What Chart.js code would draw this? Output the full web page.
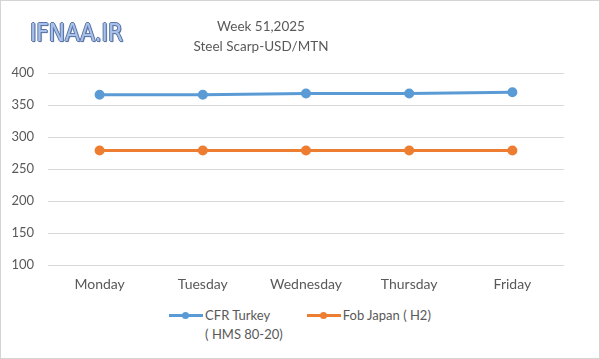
<!DOCTYPE html>
<html>
<head>
<meta charset="utf-8">
<script src="https://cdn.jsdelivr.net/npm/chart.js@4.4.1/dist/chart.umd.min.js"></script>
<style>
  html, body { margin: 0; padding: 0; background: #fff; }
  #wrap { position: relative; width: 598px; height: 357px; border: 1px solid #d4d4d4; overflow: hidden; font-family: Lato, "Open Sans", sans-serif; }
  #box { position: absolute; left: 0; top: 0; width: 598px; height: 295px; }
  #logo { position: absolute; left: 29px; top: 18px; font: 24px "Liberation Sans Narrow", "DejaVu Sans Condensed", sans-serif; color: #a9c1ea;
          text-shadow: 1px 0 0 #5c78a8, -1px 0 0 #5c78a8, 0 1px 0 #5c78a8, 0 -1px 0 #5c78a8, 1px 1px 1px #3e5683; }
  #title { position: absolute; left: 160px; width: 200px; top: 15px; text-align: center; font-size: 13.5px; line-height: 20px; color: #595959; }
  #legend { position: absolute; top: 306px; left: 0; width: 598px; display: flex; justify-content: center; gap: 24px; font-size: 13px; color: #595959; }
  .item { display: flex; align-items: flex-start; }
  .sw { position: relative; width: 34px; height: 16px; margin-right: 2px; }
  .sw i { position: absolute; left: 0; right: 0; top: 7px; height: 3px; }
  .sw b { position: absolute; left: 13px; top: 5px; width: 7px; height: 7px; border-radius: 50%; }
  .txt { line-height: 19px; margin-top: -1px; }
</style>
</head>
<body>
<div id="wrap">
  <div id="box"><canvas id="c"></canvas></div>
  <div id="logo">IFNAA.IR</div>
  <div id="title"></div>
  <div id="legend"></div>
</div>
<script>
// 데이터
const days = ['Monday', 'Tuesday', 'Wednesday', 'Thursday', 'Friday'];
const cfrTurkey = [366, 366, 368, 368, 370];
const fobJapan = [279, 279, 279, 279, 279];
const seriesNames = [['CFR Turkey', '( HMS 80-20)'], ['Fob Japan ( H2)']];
const seriesColors = ['#5b9bd5', '#ed7d31'];
const titleLines = ['Week 51,2025', 'Steel Scarp-USD/MTN'];

const textColor = '#595959';
const gridColor = '#d9d9d9';
const fontFamily = 'Lato, "Open Sans", sans-serif';

function makeSet(name, data, color) {
  return {
    label: name.join(' '),
    data: data,
    borderColor: color,
    backgroundColor: color,
    borderWidth: 3,
    pointRadius: 3.5,
    pointHoverRadius: 3.5,
    tension: 0
  };
}

new Chart(document.getElementById('c'), {
  type: 'line',
  data: {
    labels: days,
    datasets: [
      makeSet(seriesNames[0], cfrTurkey, seriesColors[0]),
      makeSet(seriesNames[1], fobJapan, seriesColors[1])
    ]
  },
  options: {
    responsive: true,
    maintainAspectRatio: false,
    animation: false,
    events: [],
    layout: { padding: { top: 72, right: 35, left: 0, bottom: 0 } },
    plugins: {
      legend: { display: false },
      tooltip: { enabled: false }
    },
    scales: {
      x: {
        offset: true,
        grid: { display: false },
        border: { display: false },
        ticks: { color: textColor, font: { size: 14, family: fontFamily }, padding: 3, maxRotation: 0 }
      },
      y: {
        min: 100,
        max: 400,
        afterFit: s => { s.width = 47; },
        grid: { color: gridColor, drawTicks: false, lineWidth: 1 },
        border: { display: false },
        ticks: { stepSize: 50, color: textColor, font: { size: 13, family: fontFamily }, padding: 14 }
      }
    }
  }
});

// 제목 (HTML)
document.getElementById('title').innerHTML = titleLines.join('<br>');

// 범례 (HTML)
const legend = document.getElementById('legend');
seriesNames.forEach((name, i) => {
  const item = document.createElement('div');
  item.className = 'item';
  item.innerHTML = '<div class="sw"><i style="background:' + seriesColors[i] + '"></i><b style="background:' + seriesColors[i] + '"></b></div>' +
    '<div class="txt">' + name.join('<br>') + '</div>';
  legend.appendChild(item);
});
</script>
</body>
</html>
